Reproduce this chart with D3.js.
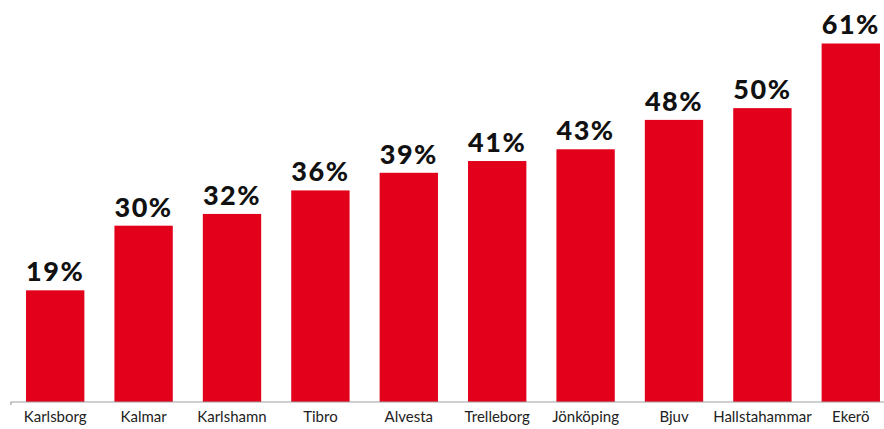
<!DOCTYPE html>
<html>
<head>
<meta charset="utf-8">
<script src="https://cdn.jsdelivr.net/npm/d3@7"></script>
<style>
  html, body { margin: 0; padding: 0; background: #fff; }
  svg { display: block; }
</style>
</head>
<body>
<svg id="chart" width="884" height="429"></svg>
<script>
// Share per municipality (percent)
const municipalities = ["Karlsborg", "Kalmar", "Karlshamn", "Tibro", "Alvesta", "Trelleborg", "Jönköping", "Bjuv", "Hallstahammar", "Ekerö"];
const shares = [19, 30, 32, 36, 39, 41, 43, 48, 50, 61];

const svg = d3.select("#chart");
const baseline = 402;

const x = d3.scaleBand()
  .domain(municipalities)
  .range([11, 895])
  .paddingInner(0.34)
  .paddingOuter(0.17);

const y = d3.scaleLinear()
  .domain([0, 68.4])
  .range([baseline, 0]);

// Bars
svg.append("g")
  .selectAll("rect")
  .data(municipalities)
  .join("rect")
  .attr("x", d => x(d))
  .attr("y", (d, i) => y(shares[i]))
  .attr("width", x.bandwidth())
  .attr("height", (d, i) => baseline - y(shares[i]))
  .attr("fill", "#E2001A");

// Category axis
const axis = svg.append("g")
  .attr("transform", `translate(0,${baseline})`)
  .call(d3.axisBottom(x).tickSize(0).tickPadding(9));
axis.select(".domain").attr("stroke", "#a0a0a0").attr("stroke-width", 1.2)
  .attr("d", "M11,3V0H884");
axis.selectAll("text")
  .attr("font-family", "Lato, 'Open Sans', sans-serif")
  .attr("font-size", 15)
  .attr("fill", "#222");

// Value labels
svg.append("g")
  .selectAll("text")
  .data(municipalities)
  .join("text")
  .attr("x", d => x(d) + x.bandwidth() / 2)
  .attr("y", (d, i) => y(shares[i]) - 9)
  .attr("text-anchor", "middle")
  .attr("font-family", "Lato, 'Open Sans', sans-serif")
  .attr("font-weight", 900)
  .attr("font-size", 27)
  .attr("letter-spacing", 1.5)
  .attr("fill", "#111")
  .text((d, i) => shares[i] + "%");
</script>
</body>
</html>
